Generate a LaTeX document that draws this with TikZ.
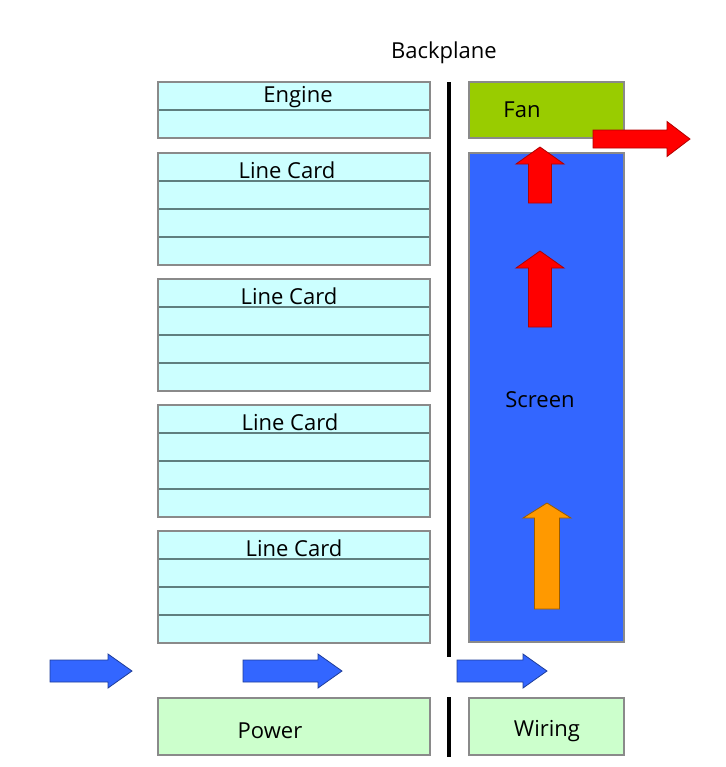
\documentclass[tikz,border=0pt]{standalone}
\usepackage{fontspec}
\setmainfont{Open Sans}

\definecolor{cardfill}{HTML}{CCFFFF}
\definecolor{rowline}{HTML}{5F7F7F}
\definecolor{boxline}{HTML}{8A8A8A}
\definecolor{fanfill}{HTML}{99CC00}
\definecolor{screenfill}{HTML}{3366FF}
\definecolor{powerfill}{HTML}{CCFFCC}
\definecolor{hotair}{HTML}{FF0000}
\definecolor{warmair}{HTML}{FF9900}
\definecolor{coldair}{HTML}{3366FF}

% block arrow: style, tail point, rotation, length, shaft half width, head half width, head length
\newcommand{\blockarrow}[7]{%
  \filldraw[#1, shift={(#2)}, rotate=#3]
    (0,-#5) -- (#4-#7,-#5) -- (#4-#7,-#6) -- (#4,0) -- (#4-#7,#6) -- (#4-#7,#5) -- (0,#5) -- cycle;}

\tikzset{
  cardrow/.style={draw=rowline, fill=cardfill, line width=0.7pt, minimum width=136pt, minimum height=14pt, inner sep=0pt, outer sep=0pt},
  slotbox/.style={draw=boxline, line width=0.6pt, minimum width=#1, inner sep=0pt, outer sep=0pt},
  caption/.style={font=\fontsize{11}{13}\selectfont, inner sep=0pt},
  backplane/.style={line width=2pt, black},
}

\begin{document}
\begin{tikzpicture}[x=0.5pt, y=-0.5pt]
  \useasboundingbox (0,0) rectangle (725,767);

  % engine
  \node[cardrow] (eng1) at (294,96) {};
  \node[cardrow] (eng2) at (294,124) {};
  \draw[boxline, line width=0.7pt] (eng1.north west) rectangle (eng2.south east);
  \node[caption] (englabel) at (298,97) {Engine};

  % line cards
  \foreach \k/\lx in {0/287, 1/289, 2/290, 3/294} {
    \foreach \j in {0,...,3}
      \node[cardrow] (lc\k r\j) at (294,{167+126*\k+28*\j}) {};
    \draw[boxline, line width=0.7pt] (lc\k r0.north west) rectangle (lc\k r3.south east);
    \node[caption] (lc\k label) at (\lx,{170+126*\k}) {Line Card};
  }

  % backplane
  \node[caption] (bplabel) at (444,53) {Backplane};
  \coordinate (bptop) at (449,82);
  \coordinate (bpmid) at (449,657);
  \coordinate (bplow) at (449,697);
  \coordinate (bpbot) at (449,757);
  \draw[backplane] (bptop) -- (bpmid);
  \draw[backplane] (bplow) -- (bpbot);

  % fan and screen
  \node[slotbox=77.5pt, minimum height=28pt, fill=fanfill] (fan) at (546.5,110) {};
  \node[caption] (fanlabel) at (522,110) {Fan};
  \node[slotbox=77.5pt, minimum height=244.5pt, fill=screenfill] (screen) at (546.5,397.5) {};
  \node[caption] (screenlabel) at (540,400) {Screen};

  % power and wiring
  \node[slotbox=136pt, minimum height=28.5pt, fill=powerfill] (power) at (294,726.5) {};
  \node[caption] (powerlabel) at (270,731) {Power};
  \node[slotbox=77.5pt, minimum height=28.5pt, fill=powerfill] (wiring) at (546.5,726.5) {};
  \node[caption] (wiringlabel) at (547,731) {Wiring};

  % air flow
  \blockarrow{fill=warmair, draw=warmair!60!black, line width=0.4pt}{547,609}{90}{106}{12.5}{24}{15}
  \blockarrow{fill=hotair, draw=hotair!70!black, line width=0.4pt}{540,327}{90}{76}{11.5}{24}{17}
  \blockarrow{fill=hotair, draw=hotair!70!black, line width=0.4pt}{540,203}{90}{56}{11.5}{24}{17}
  \blockarrow{fill=hotair, draw=hotair!70!black, line width=0.4pt}{593,139}{0}{97}{9}{17.5}{23}
  \foreach \tx/\len in {50/82, 243/99, 457/90} {
    \blockarrow{fill=coldair, draw=coldair!60!black, line width=0.4pt}{\tx,671}{0}{\len}{11}{17}{24}
  }
\end{tikzpicture}
\end{document}
